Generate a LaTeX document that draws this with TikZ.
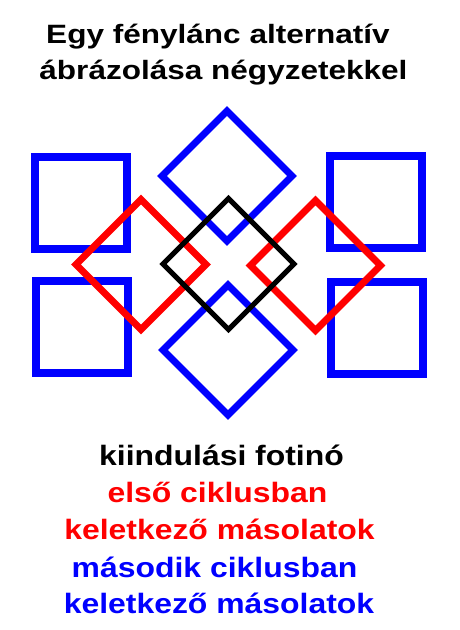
\documentclass[tikz,border=0pt]{standalone}
\usepackage{fontspec}
\setmainfont{Liberation Sans}
\newfontfamily\ttlfont[FakeStretch=1.19]{Liberation Sans}
\newfontfamily\lblfont[FakeStretch=1.14]{Liberation Sans}
\definecolor{pblue}{RGB}{0,0,255}
\definecolor{pred}{RGB}{255,0,0}
\begin{document}
\begin{tikzpicture}[x=1pt,y=-1pt,
  sq/.style={draw=pblue,line width=8pt},
  dia/.style={line width=7pt,miter limit=10},
  blk/.style={draw=black,line width=5pt,miter limit=10},
  ttl/.style={font=\ttlfont\fontsize{26.5}{26.5}\selectfont\bfseries,anchor=base,inner sep=0pt},
  lbl/.style={font=\lblfont\fontsize{28}{28}\selectfont\bfseries,anchor=base,inner sep=0pt}]
\useasboundingbox (0,0) rectangle (460,630);
\newcommand{\diam}[4]{\draw[#1] (#2,#3-#4) -- (#2+#4,#3) -- (#2,#3+#4) -- (#2-#4,#3) -- cycle;}
% blue squares
\draw[sq] (35,157) rectangle (127,249);
\draw[sq] (36,281) rectangle (128,373);
\draw[sq] (330,156) rectangle (422,248);
\draw[sq] (331,282) rectangle (423,374);
% red diamonds
\diam{dia,draw=pred}{141}{264.5}{65}
\diam{dia,draw=pred}{315.5}{265.5}{65}
% blue diamonds
\diam{dia,draw=pblue}{227}{176}{65}
\diam{dia,draw=pblue}{228}{350}{65}
% black diamond
\diam{blk}{228.5}{264}{65.5}
% texts
\node[ttl] (t1) at (218,43) {Egy fénylánc alternatív};
\node[ttl] (t2) at (223.5,79) {ábrázolása négyzetekkel};
\node[lbl] (l1) at (221.5,465) {kiindulási fotinó};
\node[lbl,text=pred] (l2) at (217.5,502) {első ciklusban};
\node[lbl,text=pred] (l3) at (219.5,539) {keletkező másolatok};
\node[lbl,text=pblue] (l4) at (214.5,577) {második ciklusban};
\node[lbl,text=pblue] (l5) at (219,613) {keletkező másolatok};
\end{tikzpicture}
\end{document}
